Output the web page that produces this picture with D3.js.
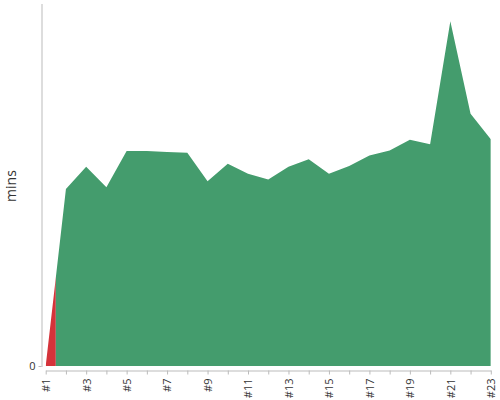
<!DOCTYPE html>
<html><head><meta charset="utf-8">
<script src="https://cdn.jsdelivr.net/npm/d3@7"></script>
<style>body{margin:0;background:#fff}svg{display:block}text{font-family:"Open Sans",sans-serif}</style>
</head><body><svg id="c" width="500" height="400"></svg>
<script>
const categories = ["#1","#2","#3","#4","#5","#6","#7","#8","#9","#10","#11","#12","#13","#14","#15","#16","#17","#18","#19","#20","#21","#22","#23"];
const values = [0,39.0,43.9,39.4,47.4,47.4,47.2,47.0,40.7,44.6,42.4,41.1,43.9,45.6,42.4,44.1,46.4,47.5,49.9,48.9,76.0,55.6,50.0];
const pointStatus = ["bad","ok","ok","ok","ok","ok","ok","ok","ok","ok","ok","ok","ok","ok","ok","ok","ok","ok","ok","ok","ok","ok","ok"];
const yTicks = [0];
const yLabel = "mins";

const svg = d3.select("#c");
const x = d3.scalePoint().domain(categories).range([45.7, 490.8]);
const y = d3.scaleLinear().domain([0, d3.max(values) * 1.05]).range([366, 4]);
const colors = {bad: "#d5333a", ok: "#449c6d"};

const data = categories.map((c, i) => ({c, v: values[i], s: pointStatus[i]}));
const area = d3.area().x(d => x(d.c)).y0(y(0)).y1(d => y(d.v));
const step = x.step();

// build runs of consecutive points with same status
const runs = [];
data.forEach((d, i) => {
  if (runs.length && runs[runs.length - 1].s === d.s) runs[runs.length - 1].end = i;
  else runs.push({s: d.s, start: i, end: i});
});
const defs = svg.append("defs");
runs.forEach((r, k) => {
  const x0 = r.start === 0 ? x(data[0].c) : x(data[r.start].c) - step / 2;
  const x1 = r.end === data.length - 1 ? x(data[r.end].c) : x(data[r.end].c) + step / 2;
  defs.append("clipPath").attr("id", "cp" + k)
    .append("rect").attr("x", x0).attr("y", 0).attr("width", x1 - x0).attr("height", 400);
  svg.append("path").datum(data).attr("d", area)
    .attr("fill", colors[r.s]).attr("clip-path", `url(#cp${k})`);
});

// x axis
const xAxis = svg.append("g").attr("transform", "translate(0,370.5)")
  .call(d3.axisBottom(x).tickSize(4).tickSizeOuter(0).tickFormat((d, i) => i % 2 === 0 ? d : ""));
xAxis.select(".domain").attr("stroke", "#bbb");
xAxis.selectAll(".tick line").attr("stroke", "#bbb");
xAxis.selectAll(".tick text")
  .attr("transform", "rotate(-90)")
  .attr("text-anchor", "end")
  .attr("x", -8).attr("y", 0).attr("dy", "0.35em")
  .attr("fill", "#333").style("font-size", "11px").style("font-family", '"Open Sans",sans-serif');

// y axis
const yAxis = svg.append("g").attr("transform", "translate(41.5,0)")
  .call(d3.axisLeft(y).tickValues(yTicks).tickSize(3).tickSizeOuter(0));
yAxis.select(".domain").attr("stroke", "#bbb").attr("d", "M0.5,4V367");
yAxis.selectAll(".tick line").attr("stroke", "#bbb");
yAxis.selectAll(".tick text").attr("fill", "#333").style("font-size", "11px").attr("x", -6)
  .style("font-family", '"Open Sans",sans-serif');

svg.append("text").attr("transform", "translate(16,186) rotate(-90)")
  .attr("text-anchor", "middle").attr("fill", "#333").style("font-size", "14px").text(yLabel);
</script></body></html>
